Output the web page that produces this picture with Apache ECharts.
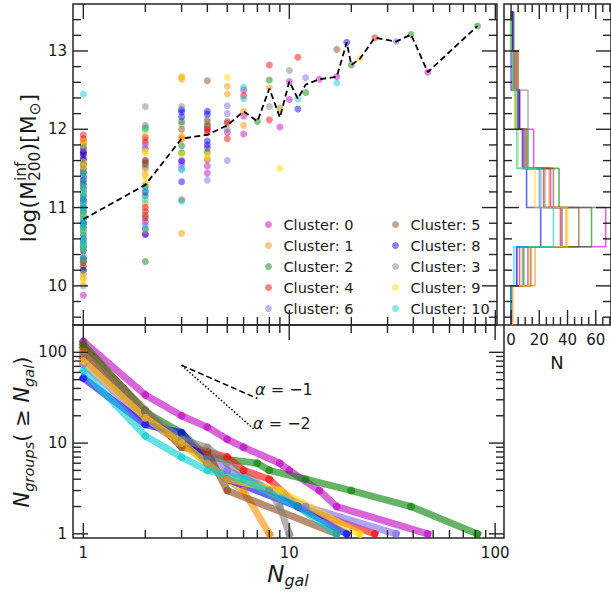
<!DOCTYPE html>
<html><head><meta charset="utf-8">
<script src="https://cdn.jsdelivr.net/npm/echarts@6/dist/echarts.min.js"></script>
<style>html,body{margin:0;padding:0;background:#fff}#c{width:611px;height:595px}</style>
</head><body><div id="c"></div>
<script>
const FONT = 'DejaVu Sans';
// ---- categories (plotting / legend order) ----
const clusterIds = [0, 1, 2, 4, 6, 5, 8, 3, 9, 10];
const clusterNames = clusterIds.map(i => 'Cluster: ' + i);
const clusterColors = ['rgba(191,0,191,0.6)', 'rgba(255,140,0,0.6)', 'rgba(0,128,0,0.6)', 'rgba(255,0,0,0.6)',
  'rgba(123,104,238,0.6)', 'rgba(139,69,19,0.6)', 'rgba(0,0,255,0.6)', 'rgba(128,128,128,0.6)',
  'rgba(255,215,0,0.6)', 'rgba(0,206,209,0.6)'];

// ---- top panel: log(M200) per group, keyed by N_gal ----
const mass_c0 = {1:[9.88,10.35,10.6,10.8,11.0,11.2,11.4,11.55,11.7,11.85], 2:[10.66,10.82,11.6,11.75], 3:[11.58], 4:[11.44,11.53,11.76,12.0], 5:[11.96], 6:[12.5,12.17,11.94], 9:[12.03], 10:[12.61,12.38], 14:[12.64], 17:[12.67], 47:[12.73]};
const mass_c1 = {1:[10.1,10.25,10.45,10.6,10.75,10.95,11.15,11.35,11.6,11.82], 2:[11.05,11.3,11.42,11.86], 3:[10.67,11.91,12.64,12.67], 4:[12.05], 5:[12.55,12.45], 6:[12.23,12.05], 8:[12.53]};
const mass_c2 = {1:[10.2,10.35,10.55,10.75,10.95,11.15,11.3,11.45,11.55,11.8], 2:[10.31,11.15,11.27,12.02], 3:[11.79,11.7,12.1], 4:[11.71], 7:[12.1], 8:[12.63], 12:[12.47], 20:[12.82], 39:[13.21], 82:[13.32]};
const mass_c4 = {1:[10.3,10.5,10.7,10.9,11.1,11.3,11.5,11.7,11.88,11.93], 2:[10.87,10.95,11.0,11.83,11.9], 3:[11.88], 4:[11.96,12.0], 5:[11.88,12.08], 6:[12.43], 8:[12.82,12.12], 11:[12.92], 26:[13.17]};
const mass_c6 = {1:[10.0,10.15,10.4,10.6,10.8,11.0,11.2,11.4,11.6], 2:[10.78,11.5,11.8], 3:[11.5,11.54], 4:[11.35], 5:[12.3,12.2,11.6], 12:[12.66], 33:[13.12]};
const mass_c5 = {1:[10.25,10.32,10.45,10.65,10.85,11.05,11.25,11.45,11.65], 2:[10.9,11.55,11.57,11.6], 3:[11.1,12.0], 4:[12.62,12.1,11.61,12.04], 5:[12.1], 17:[13.02]};
const mass_c8 = {1:[10.2,10.5,10.8,11.1,11.35,11.62,11.68,11.72,11.76], 2:[10.66,10.72,11.2], 3:[11.33,11.6,12.16,12.22,12.25], 4:[12.23,12.19,11.85,11.8], 11:[12.26], 19:[13.11]};
const mass_c3 = {1:[10.3,10.55,10.8,11.0,11.25,11.5,11.75], 2:[11.52,12.05,12.29], 3:[12.29,12.07], 4:[12.06,12.13], 5:[12.0], 8:[12.29], 9:[12.27], 10:[12.75]};
const mass_c9 = {1:[10.02,10.08,10.15,10.5,10.7,10.9,11.2,11.52,11.58,11.8,11.85], 2:[10.71,11.38,11.47,11.7,11.72,11.97], 3:[11.68,11.88,12.66], 4:[11.67,11.64], 5:[12.66], 9:[12.25,11.5], 22:[12.9]};
const mass_c10 = {1:[10.35,10.45,10.5,10.55,10.6,10.65,10.7,10.75,10.8,10.85,10.9,10.95,11.0,11.05,11.1,11.15,11.2,11.25,11.3,11.38,11.45,12.45], 2:[10.74,11.1,11.22,12.0], 3:[11.08,11.48], 6:[12.54,12.39], 11:[12.39], 17:[12.59]};
const masses = [mass_c0, mass_c1, mass_c2, mass_c4, mass_c6, mass_c5, mass_c8, mass_c3, mass_c9, mass_c10];

// median relation (dashed line)
const medN = [1,2,3,4,5,6,7,8,9,10,11,12,14,17,19,20,22,26,33,39,47,82];
const medM = [10.85,11.29,11.88,11.93,12.05,12.23,12.1,12.52,12.15,12.61,12.39,12.57,12.64,12.67,13.11,12.82,12.9,13.17,13.12,13.21,12.73,13.32];

// ---- bottom panel: cumulative N_groups(>= N_gal) ----
const cumN_c0 = [1,2,3,4,5,6,9,10,14,17,47];  const cumC_c0 = [132,34,20,15,11,9,6,5,3,2,1];
const cumN_c1 = [1,2,3,4,5,6,8];              const cumC_c1 = [104,20,10,6,4,3,1];
const cumN_c2 = [1,2,3,4,7,8,12,20,39,82];    const cumC_c2 = [122,22,13,7,6,5,4,3,2,1];
const cumN_c4 = [1,2,3,4,5,6,8,11,26];        const cumC_c4 = [87,19,10,8,7,5,4,2,1];
const cumN_c6 = [1,2,3,4,5,12,33];            const cumC_c6 = [75,18,10,7,5,2,1];
const cumN_c5 = [1,2,3,4,5,17];               const cumC_c5 = [113,23,9,8,3,1];
const cumN_c8 = [1,2,3,4,5,11,19];            const cumC_c8 = [52,16,13,6,4,2,1];
const cumN_c3 = [1,2,3,4,5,8,9,10];           const cumC_c3 = [96,22,11,9,6,3,2,1];
const cumN_c9 = [1,2,3,4,5,9,22];             const cumC_c9 = [80,19,10,6,4,3,1];
const cumN_c10 = [1,2,3,4,6,11,17];           const cumC_c10 = [62,12,7,5,4,2,1];
const cumN = [cumN_c0, cumN_c1, cumN_c2, cumN_c4, cumN_c6, cumN_c5, cumN_c8, cumN_c3, cumN_c9, cumN_c10];
const cumC = [cumC_c0, cumC_c1, cumC_c2, cumC_c4, cumC_c6, cumC_c5, cumC_c8, cumC_c3, cumC_c9, cumC_c10];

// power-law guides
const guideN1 = [3, 7];   const guideC1 = [72, 31];
const guideN2 = [3, 6.7]; const guideC2 = [72, 14.4];

// ---- right panel: histogram of log(M200) ----
const histEdges = [9.5, 10, 10.5, 11, 11.5, 12, 12.5, 13, 13.5];
const hist_c0 = [1, 12, 67, 28, 16, 5, 5, 0];
const hist_c1 = [0, 17, 39, 27, 10, 5, 5, 0];
const hist_c2 = [0, 9, 57, 34, 12, 3, 4, 2];
const hist_c4 = [0, 6, 35, 23, 9, 6, 3, 1];
const hist_c6 = [0, 4, 36, 20, 9, 5, 2, 1];
const hist_c5 = [0, 14, 48, 30, 11, 5, 2, 1];
const hist_c8 = [0, 4, 21, 11, 8, 6, 0, 1];
const hist_c3 = [0, 8, 36, 24, 10, 12, 1, 0];
const hist_c9 = [1, 13, 40, 17, 5, 3, 1, 0];
const hist_c10 = [0, 2, 30, 21, 4, 4, 1, 0];
const hists = [hist_c0, hist_c1, hist_c2, hist_c4, hist_c6, hist_c5, hist_c8, hist_c3, hist_c9, hist_c10];

// ---- ticks ----
const xTicksMajor = [1, 10, 100];           const xTickLabels = ['1', '10', '100'];
const xTicksMinor = [2,3,4,5,6,7,8,9,20,30,40,50,60,70,80,90];
const massTicksMajor = [10, 11, 12, 13];    const massTickLabels = ['10', '11', '12', '13'];
const massTicksMinor = [9.6,9.8,10.2,10.4,10.6,10.8,11.2,11.4,11.6,11.8,12.2,12.4,12.6,12.8,13.2,13.4];
const grpTicksMajor = [1, 10, 100];         const grpTickLabels = ['1', '10', '100'];
const grpTicksMinor = [2,3,4,5,6,7,8,9,20,30,40,50,60,70,80,90];
const histTicksMajor = [0, 20, 40, 60];     const histTickLabels = ['0', '20', '40', '60'];
const histTicksMinor = [5,10,15,25,30,35,45,50,55,65,70];

function specs(axis, major, labels, minor, withLabels) {
  const out = [];
  major.forEach((v, i) => out.push({axis, v, major: true, label: withLabels ? labels[i] : null}));
  minor.forEach(v => out.push({axis, v, major: false, label: null}));
  return out;
}
function tickSeries(xi, yi, xRef, yRef, list) {
  return {
    type: 'custom', xAxisIndex: xi, yAxisIndex: yi, silent: true, clip: false, z: 20,
    data: list.map((s, i) => [xRef, yRef, i]),
    renderItem: (params, api) => {
      const s = list[api.value(2)];
      const cs = params.coordSys;
      const L = s.major ? 15 : 8;
      const st = {stroke: '#262626', lineWidth: 1.4};
      const ch = [];
      if (s.axis === 'x') {
        const px = api.coord([s.v, yRef])[0];
        const yb = cs.y + cs.height, yt = cs.y;
        ch.push({type: 'line', shape: {x1: px, y1: yb, x2: px, y2: yb - L}, style: st});
        ch.push({type: 'line', shape: {x1: px, y1: yt, x2: px, y2: yt + L}, style: st});
        if (s.label) ch.push({type: 'text', x: px, y: yb + 7, style: {text: s.label, align: 'center', verticalAlign: 'top', fontFamily: FONT, fontSize: 15, fill: '#1a1a1a'}});
      } else {
        const py = api.coord([xRef, s.v])[1];
        const xl = cs.x, xr = cs.x + cs.width;
        ch.push({type: 'line', shape: {x1: xl, y1: py, x2: xl + L, y2: py}, style: st});
        ch.push({type: 'line', shape: {x1: xr, y1: py, x2: xr - L, y2: py}, style: st});
        if (s.label) ch.push({type: 'text', x: xl - 6, y: py, style: {text: s.label, align: 'right', verticalAlign: 'middle', fontFamily: FONT, fontSize: 15, fill: '#1a1a1a'}});
      }
      return {type: 'group', children: ch};
    }
  };
}

const series = [];
// scatter (top)
clusterIds.forEach((cid, k) => {
  const m = masses[k];
  const data = [];
  Object.keys(m).forEach(n => m[n].forEach(v => data.push([Number(n), v])));
  series.push({name: clusterNames[k], type: 'scatter', xAxisIndex: 0, yAxisIndex: 0, symbol: 'circle', symbolSize: 7,
    itemStyle: {color: clusterColors[k]}, z: 2, data});
});
series.push({name: 'median', type: 'line', xAxisIndex: 0, yAxisIndex: 0, symbol: 'none', z: 5,
  lineStyle: {color: '#000', width: 1.8, type: [6, 3.5]}, data: medN.map((n, i) => [n, medM[i]])});
// histogram (right)
clusterIds.forEach((cid, k) => {
  const pts = [[0, histEdges[0]]];
  hists[k].forEach((c, i) => { pts.push([c, histEdges[i]]); pts.push([c, histEdges[i + 1]]); });
  pts.push([0, histEdges[histEdges.length - 1]]);
  series.push({name: 'hist ' + cid, type: 'line', xAxisIndex: 1, yAxisIndex: 1, symbol: 'none', z: 2,
    lineStyle: {color: clusterColors[k], width: 1.6}, data: pts});
});
// cumulative (bottom)
clusterIds.forEach((cid, k) => {
  series.push({name: 'cum ' + cid, type: 'line', xAxisIndex: 2, yAxisIndex: 2, symbol: 'circle', symbolSize: 8, z: 2,
    lineStyle: {color: clusterColors[k], width: 7, join: 'round', cap: 'square'},
    itemStyle: {color: clusterColors[k]},
    data: cumN[k].map((n, i) => [n, cumC[k][i]])});
});
series.push({name: 'a1', type: 'line', xAxisIndex: 2, yAxisIndex: 2, symbol: 'none', z: 6,
  lineStyle: {color: '#000', width: 1.5, type: [6, 3]}, data: guideN1.map((n, i) => [n, guideC1[i]])});
series.push({name: 'a2', type: 'line', xAxisIndex: 2, yAxisIndex: 2, symbol: 'none', z: 6,
  lineStyle: {color: '#000', width: 1.5, type: [1.5, 2]}, data: guideN2.map((n, i) => [n, guideC2[i]])});
// ticks
series.push(tickSeries(0, 0, 1, 11, specs('x', xTicksMajor, xTickLabels, xTicksMinor, false)
  .concat(specs('y', massTicksMajor, massTickLabels, massTicksMinor, true))));
series.push(tickSeries(1, 1, 0, 11, specs('x', histTicksMajor, histTickLabels, histTicksMinor, true)
  .concat(specs('y', massTicksMajor, massTickLabels, massTicksMinor, false))));
series.push(tickSeries(2, 2, 1, 10, specs('x', xTicksMajor, xTickLabels, xTicksMinor, true)
  .concat(specs('y', grpTicksMajor, grpTickLabels, grpTicksMinor, true))));

// ---- math-like titles ----
const mctx = document.createElement('canvas').getContext('2d');
function tw(t, s, it) { mctx.font = (it ? 'italic ' : '') + s + 'px "DejaVu Sans"'; return mctx.measureText(t).width; }
function mathLabel(pieces, S, cx, cy, rot) {
  const items = pieces.map(p => p.stack ? {stack: p.stack, w: Math.max(...p.stack.map(q => tw(q.t, q.s, q.it)))} : {p, w: tw(p.t, p.s, p.it)});
  const W = items.reduce((a, b) => a + b.w, 0);
  let x = -W / 2;
  const kids = [];
  const mk = (q, xx) => ({type: 'text', x: xx, y: 0.3 * S + (q.sh || 0) * S - 0.3 * q.s,
    style: {text: q.t, fontFamily: FONT, fontSize: q.s, fontStyle: q.it ? 'italic' : 'normal', fill: '#1a1a1a', align: 'left', verticalAlign: 'middle'}});
  items.forEach(it => {
    if (it.stack) it.stack.forEach(q => kids.push(mk(q, x)));
    else kids.push(mk(it.p, x));
    x += it.w;
  });
  return {type: 'group', x: cx, y: cy, rotation: rot, children: kids};
}
const S1 = 22, s1 = 15.5;
const yTitleTop = mathLabel([
  {t: 'log(M', s: S1},
  {stack: [{t: 'inf', s: s1, sh: -0.42}, {t: '200', s: s1, sh: 0.25}]},
  {t: ')[M', s: S1},
  {t: '⊙', s: s1, sh: 0.22},
  {t: ']', s: S1}
], S1, 28, 168, Math.PI / 2);
const S2 = 21, s2 = 14.5;
const yTitleBot = mathLabel([
  {t: 'N', s: S2, it: true},
  {t: 'groups', s: s2, it: true, sh: 0.25},
  {t: '(', s: S2},
  {t: ' ≥ ', s: S2},
  {t: 'N', s: S2, it: true},
  {t: 'gal', s: s2, it: true, sh: 0.25},
  {t: ')', s: S2}
], S2, 22, 432, Math.PI / 2);
const S3 = 23, s3 = 16;
const xTitle = mathLabel([
  {t: 'N', s: S3, it: true},
  {t: 'gal', s: s3, it: true, sh: 0.2}
], S3, 288, 574, 0);

const option = {
  animation: false,
  backgroundColor: '#fff',
  grid: [
    {left: 73, top: 4, width: 424, height: 321, show: true, borderColor: '#262626', borderWidth: 1.5, backgroundColor: 'transparent'},
    {left: 504, top: 4, width: 108, height: 321, show: true, borderColor: '#262626', borderWidth: 1.5, backgroundColor: 'transparent'},
    {left: 73, top: 325, width: 431, height: 213, show: true, borderColor: '#262626', borderWidth: 1.5, backgroundColor: 'transparent'}
  ],
  xAxis: [
    {gridIndex: 0, type: 'log', logBase: 10, min: 0.891, max: 101.9, show: false},
    {gridIndex: 1, type: 'value', min: -5, max: 70.8, show: false},
    {gridIndex: 2, type: 'log', logBase: 10, min: 0.891, max: 110.4, show: false}
  ],
  yAxis: [
    {gridIndex: 0, type: 'value', min: 9.5, max: 13.6, show: false},
    {gridIndex: 1, type: 'value', min: 9.5, max: 13.6, show: false},
    {gridIndex: 2, type: 'log', logBase: 10, min: 0.9, max: 200, show: false}
  ],
  legend: [
    {data: clusterNames.slice(0, 5), orient: 'vertical', left: 260, top: 212, itemWidth: 20, itemHeight: 7, itemGap: 6,
      icon: 'circle', selectedMode: false, textStyle: {fontFamily: FONT, fontSize: 14.5, lineHeight: 15, color: '#1a1a1a'}},
    {data: clusterNames.slice(5), orient: 'vertical', left: 387, top: 212, itemWidth: 20, itemHeight: 7, itemGap: 6,
      icon: 'circle', selectedMode: false, textStyle: {fontFamily: FONT, fontSize: 14.5, lineHeight: 15, color: '#1a1a1a'}}
  ],
  graphic: [
    yTitleTop, yTitleBot, xTitle,
    {type: 'text', x: 557, y: 362, style: {text: 'N', fontFamily: FONT, fontSize: 18, fill: '#1a1a1a', align: 'center', verticalAlign: 'middle'}},
    {type: 'text', x: 255, y: 389, style: {text: '{a|α} = −1', fontFamily: FONT, fontSize: 16, fill: '#1a1a1a', verticalAlign: 'middle',
      rich: {a: {fontFamily: FONT, fontSize: 16, fontStyle: 'italic', fill: '#1a1a1a'}}}},
    {type: 'text', x: 253, y: 423, style: {text: '{a|α} = −2', fontFamily: FONT, fontSize: 16, fill: '#1a1a1a', verticalAlign: 'middle',
      rich: {a: {fontFamily: FONT, fontSize: 16, fontStyle: 'italic', fill: '#1a1a1a'}}}}
  ],
  series
};
const chart = echarts.init(document.getElementById('c'), null, {renderer: 'svg', width: 611, height: 595});
chart.setOption(option);
</script>
</body></html>
